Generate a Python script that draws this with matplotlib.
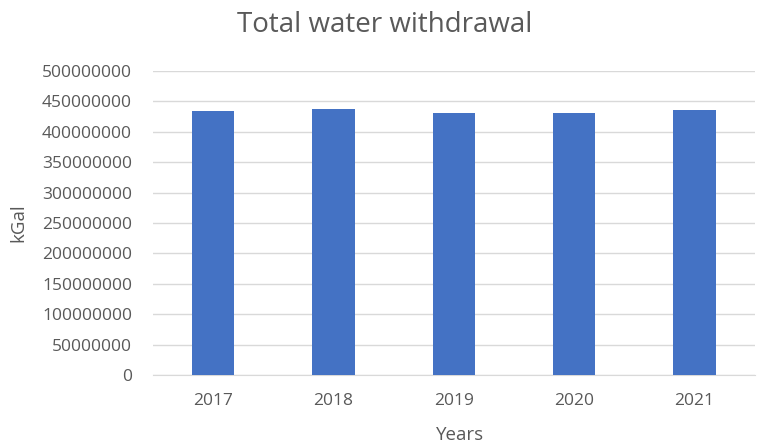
import matplotlib.pyplot as plt

years = ["2017", "2018", "2019", "2020", "2021"]
withdrawal = [434000000, 438000000, 430500000, 430500000, 436000000]
y_ticks = list(range(0, 500000001, 50000000))

plt.rcParams["font.family"] = ["Open Sans", "DejaVu Sans"]
grey = "#595959"

fig = plt.figure(figsize=(7.57, 4.46), dpi=100)
ax = fig.add_axes([0.202, 0.159, 0.795, 0.682])

x = range(len(years))
ax.bar(x, withdrawal, width=0.35, color="#4472C4", zorder=3)

ax.set_xlim(-0.5, len(years) - 0.5)
ax.set_ylim(0, 500000000)
ax.set_xticks(list(x))
ax.set_xticklabels(years)
ax.set_yticks(y_ticks)
ax.set_yticklabels([str(v) for v in y_ticks])

ax.grid(axis="y", color="#d9d9d9", linewidth=1, zorder=0)
for s in ["top", "right", "left"]:
    ax.spines[s].set_visible(False)
ax.spines["bottom"].set_color("#d9d9d9")
ax.tick_params(axis="both", length=0, colors=grey, labelsize=12.5)
ax.tick_params(axis="x", pad=13)
ax.tick_params(axis="y", pad=15)

# title and axis labels placed on the figure
fig.text(0.508, 0.944, "Total water withdrawal", fontsize=20, color=grey,
         ha="center", va="center")
fig.text(0.608, 0.025, "Years", fontsize=13.5, color=grey, ha="center", va="center")
fig.text(0.024, 0.5, "kGal", fontsize=13.5, color=grey, ha="center", va="center",
         rotation=90)

plt.savefig("out.png")
